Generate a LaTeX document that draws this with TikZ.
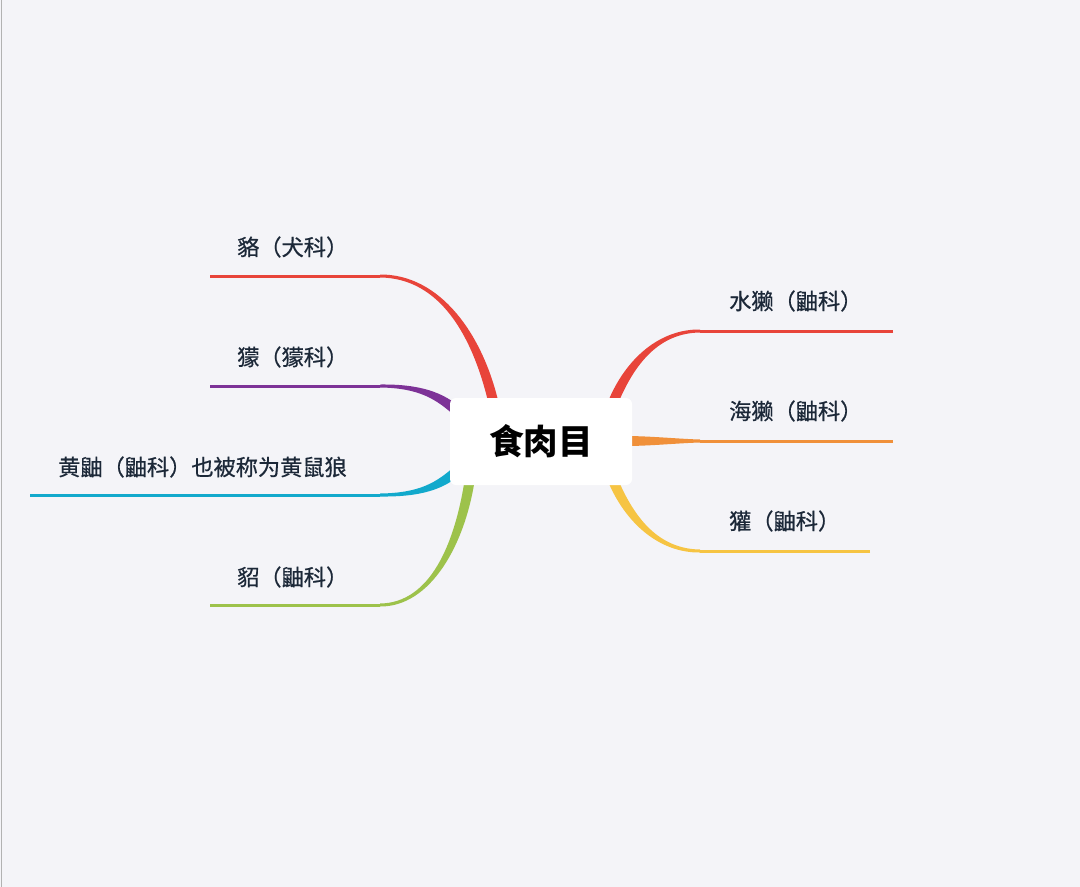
\documentclass[tikz,border=0pt]{standalone}
\usepackage{fontspec}
\newfontfamily\cjk{Noto Sans CJK SC}
\newfontfamily\cjkm{Noto Sans CJK SC}[FakeBold=0.6]
\usetikzlibrary{calc}
\definecolor{bg}{HTML}{F4F4F8}
\definecolor{txt}{HTML}{1C2838}
\definecolor{cred}{HTML}{E8443A}
\definecolor{cpurple}{HTML}{7D3297}
\definecolor{ccyan}{HTML}{12A9CC}
\definecolor{cgreen}{HTML}{9DC24B}
\definecolor{corange}{HTML}{F0903A}
\definecolor{cyellow}{HTML}{F6C443}
\newcommand\lp{\makebox[1em][r]{（}}
\newcommand\rp{\makebox[1em][l]{）}}
\newcommand\brtaper[5]{%
 \fill[#1] ($(#2)!1.5pt!90:(#3)$) .. controls ($(#3)!2pt!-90:(#2)$) and ($(#4)!5pt!90:(#5)$) .. ($(#5)!5pt!-90:(#4)$)
   -- ($(#5)!5pt!90:(#4)$) .. controls ($(#4)!5pt!-90:(#5)$) and ($(#3)!2pt!90:(#2)$) .. ($(#2)!1.5pt!-90:(#3)$) -- cycle;}
\tikzset{
  lbl/.style={anchor=west, text=txt, font=\cjkm\fontsize{22.2}{26}\selectfont, inner sep=0pt},
  stem/.style={line width=3pt},
  rootbox/.style={fill=white, rounded corners=6pt, minimum width=182pt, minimum height=87pt, inner sep=0pt,
     font=\cjk\bfseries\fontsize{34.5}{40}\selectfont, text=black}
}
\begin{document}
\begin{tikzpicture}[x=1pt,y=-1pt]
\fill[bg] (0,0) rectangle (1080,887);
\useasboundingbox (0,0) rectangle (1080,887);
\draw[line width=1.5pt, color=gray!60] (1.5,0) -- (1.5,887);

% left branches
\coordinate (a0) at (210,276); \coordinate (a1) at (380,276);
\coordinate (a2) at (440,276); \coordinate (a3) at (478,335); \coordinate (a4) at (494,405);
\draw[stem, cred] (a0) -- (a1);
\brtaper{cred}{a1}{a2}{a3}{a4}
\node[lbl] (la) at (237,247) {貉\lp 犬科\rp};

\coordinate (b0) at (210,386); \coordinate (b1) at (380,386);
\coordinate (b2) at (420,386); \coordinate (b3) at (440,396); \coordinate (b4) at (458,412);
\draw[stem, cpurple] (b0) -- (b1);
\brtaper{cpurple}{b1}{b2}{b3}{b4}
\node[lbl] (lb) at (237,357) {獴\lp 獴科\rp};

\coordinate (c0) at (30,495); \coordinate (c1) at (380,495);
\coordinate (c2) at (420,495); \coordinate (c3) at (440,486); \coordinate (c4) at (458,470);
\draw[stem, ccyan] (c0) -- (c1);
\brtaper{ccyan}{c1}{c2}{c3}{c4}
\node[lbl] (lc) at (58,467) {黄鼬\lp 鼬科\rp 也被称为黄鼠狼};

\coordinate (d0) at (210,605); \coordinate (d1) at (380,605);
\coordinate (d2) at (430,605); \coordinate (d3) at (460,545); \coordinate (d4) at (470,478);
\draw[stem, cgreen] (d0) -- (d1);
\brtaper{cgreen}{d1}{d2}{d3}{d4}
\node[lbl] (ld) at (237,577) {貂\lp 鼬科\rp};

% right branches
\coordinate (e0) at (893,331); \coordinate (e1) at (700,331);
\coordinate (e2) at (660,331); \coordinate (e3) at (630,360); \coordinate (e4) at (612,405);
\draw[stem, cred] (e0) -- (e1);
\brtaper{cred}{e1}{e2}{e3}{e4}
\node[lbl] (le) at (729,301) {水獭\lp 鼬科\rp};

\coordinate (f0) at (893,441); \coordinate (f1) at (700,441);
\coordinate (f2) at (680,441); \coordinate (f3) at (650,441); \coordinate (f4) at (625,441);
\draw[stem, corange] (f0) -- (f1);
\brtaper{corange}{f1}{f2}{f3}{f4}
\node[lbl] (lf) at (729,411) {海獭\lp 鼬科\rp};

\coordinate (g0) at (870,551); \coordinate (g1) at (700,551);
\coordinate (g2) at (660,551); \coordinate (g3) at (630,522); \coordinate (g4) at (612,478);
\draw[stem, cyellow] (g0) -- (g1);
\brtaper{cyellow}{g1}{g2}{g3}{g4}
\node[lbl] (lg) at (729,521) {獾\lp 鼬科\rp};

\node[rootbox] (root) at (541,441.5) {食肉目};
\end{tikzpicture}
\end{document}
